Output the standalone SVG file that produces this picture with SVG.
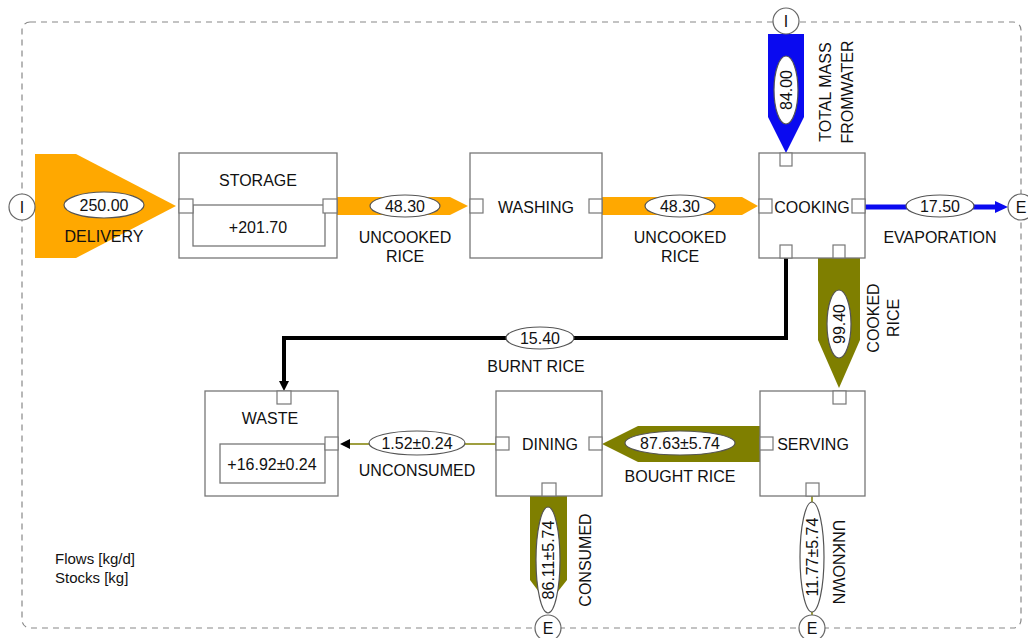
<svg xmlns="http://www.w3.org/2000/svg" width="1028" height="638" viewBox="0 0 1028 638">
<style>
text{font-family:"Liberation Sans",Arial,sans-serif;font-size:16px;fill:#111;text-anchor:middle;dominant-baseline:central}
.box{fill:#fff;stroke:#777;stroke-width:1.3}
.port{fill:#fff;stroke:#777;stroke-width:1.2}
.ell{fill:#fff;stroke:#555;stroke-width:1.2}
.term{fill:#fff;stroke:#666;stroke-width:1.2}
.or{fill:#FFA800}
.bl{fill:#0a0aF0}
.ol{fill:#7f7f00}
.leg{text-anchor:start;font-size:15px}
</style>
<rect x="22" y="22" width="999" height="606" rx="8" fill="none" stroke="#888" stroke-width="1.2" stroke-dasharray="6 5"/>

<g id="connectors">
  <g id="flow-delivery">
    <polygon class="or" points="35,154 76,154 176,206 76,258 35,258"/>
    <ellipse class="ell" cx="104" cy="205" rx="40" ry="13"/>
    <text x="104" y="205">250.00</text>
    <text x="104" y="236">DELIVERY</text>
  </g>
  <g id="flow-uncooked1">
    <polygon class="or" points="337,197 450,197 468,206 450,215 337,215"/>
    <ellipse class="ell" cx="405" cy="206" rx="35" ry="11"/>
    <text x="405" y="206">48.30</text>
    <text x="405" y="237">UNCOOKED</text>
    <text x="405" y="256">RICE</text>
  </g>
  <g id="flow-uncooked2">
    <polygon class="or" points="602,197 742,197 758,206 742,215 602,215"/>
    <ellipse class="ell" cx="680" cy="206" rx="35" ry="11"/>
    <text x="680" y="206">48.30</text>
    <text x="680" y="237">UNCOOKED</text>
    <text x="680" y="256">RICE</text>
  </g>
  <g id="flow-water">
    <polygon class="bl" points="768,34 804,34 804,117 786,153 768,117"/>
    <ellipse class="ell" cx="786" cy="90" rx="12" ry="34"/>
    <text transform="translate(786,90) rotate(-90)">84.00</text>
    <text transform="translate(825,92) rotate(-90)">TOTAL MASS</text>
    <text transform="translate(847,92) rotate(-90)">FROMWATER</text>
  </g>
  <g id="flow-evaporation">
    <rect class="bl" x="865" y="204.5" width="132" height="5"/>
    <polygon class="bl" points="995,201 1008,207 995,213"/>
    <ellipse class="ell" cx="940" cy="206" rx="34" ry="11"/>
    <text x="940" y="206">17.50</text>
    <text x="940" y="237">EVAPORATION</text>
  </g>
  <g id="flow-cooked">
    <polygon class="ol" points="818,258 860,258 860,340 839,388 818,340"/>
    <ellipse class="ell" cx="839" cy="324" rx="12" ry="34"/>
    <text transform="translate(839,324) rotate(-90)">99.40</text>
    <text transform="translate(873,318) rotate(-90)">COOKED</text>
    <text transform="translate(893,318) rotate(-90)">RICE</text>
  </g>
  <g id="flow-burnt">
    <path d="M786,258 V338 H284 V382" fill="none" stroke="#000" stroke-width="4"/>
    <polygon points="279,381 289,381 284,391" fill="#000"/>
    <ellipse class="ell" cx="540" cy="338" rx="34" ry="11"/>
    <text x="540" y="338">15.40</text>
    <text x="536" y="366">BURNT RICE</text>
  </g>
  <g id="flow-bought">
    <polygon class="ol" points="760,426 760,462 638,462 602,444 638,426"/>
    <ellipse class="ell" cx="680" cy="443" rx="55" ry="12"/>
    <text x="680" y="443">87.63±5.74</text>
    <text x="680" y="476">BOUGHT RICE</text>
  </g>
  <g id="flow-unconsumed">
    <line x1="496" y1="444" x2="348" y2="444" stroke="#7f7f00" stroke-width="1.3"/>
    <polygon points="350,439 350,449 340,444" fill="#000"/>
    <ellipse class="ell" cx="417" cy="443" rx="48" ry="12"/>
    <text x="417" y="443">1.52±0.24</text>
    <text x="417" y="470">UNCONSUMED</text>
  </g>
  <g id="flow-consumed">
    <polygon class="ol" points="530,496 567,496 567,580 548,604 530,580"/>
    <ellipse class="ell" cx="548" cy="560" rx="12" ry="53"/>
    <text transform="translate(548,560) rotate(-90)">86.11±5.74</text>
    <text transform="translate(585,560) rotate(-90)">CONSUMED</text>
  </g>
  <g id="flow-unknown">
    <line x1="812" y1="496" x2="812" y2="615" stroke="#7f7f00" stroke-width="1.5"/>
    <ellipse class="ell" cx="812" cy="557" rx="12" ry="55"/>
    <text transform="translate(812,557) rotate(-90)">11.77±5.74</text>
    <text transform="translate(838,562) rotate(90)">UNKNOWN</text>
  </g>
</g>

<g id="term-I-left"><circle class="term" cx="22" cy="207" r="13"/><text x="22" y="207">I</text></g>
<g id="term-I-top"><circle class="term" cx="786" cy="21" r="13"/><text x="786" y="21">I</text></g>
<g id="term-E-right"><circle class="term" cx="1021" cy="207" r="13"/><text x="1021" y="207">E</text></g>
<g id="term-E-consumed"><circle class="term" cx="548" cy="628" r="13"/><text x="548" y="628">E</text></g>
<g id="term-E-unknown"><circle class="term" cx="812" cy="628" r="13"/><text x="812" y="628">E</text></g>

<g id="storage">
  <rect class="box" x="179" y="153" width="158" height="105"/>
  <rect class="box" x="193" y="205" width="132" height="41"/>
  <rect class="port" x="179" y="199" width="14" height="14"/>
  <rect class="port" x="323" y="199" width="14" height="14"/>
  <text x="258" y="180">STORAGE</text>
  <text x="258" y="227">+201.70</text>
</g>
<g id="washing">
  <rect class="box" x="470" y="153" width="132" height="105"/>
  <rect class="port" x="470" y="199" width="13" height="14"/>
  <rect class="port" x="589" y="199" width="13" height="14"/>
  <text x="536" y="207">WASHING</text>
</g>
<g id="cooking">
  <rect class="box" x="759" y="153" width="106" height="105"/>
  <rect class="port" x="780" y="153" width="12" height="13"/>
  <rect class="port" x="759" y="199" width="13" height="14"/>
  <rect class="port" x="852" y="199" width="13" height="14"/>
  <rect class="port" x="780" y="245" width="12" height="13"/>
  <rect class="port" x="833" y="245" width="12" height="13"/>
  <text x="812" y="207">COOKING</text>
</g>
<g id="waste">
  <rect class="box" x="205" y="391" width="133" height="105"/>
  <rect class="box" x="220" y="444" width="105" height="39"/>
  <rect class="port" x="277" y="391" width="14" height="13"/>
  <rect class="port" x="325" y="437" width="13" height="13"/>
  <text x="270" y="418">WASTE</text>
  <text x="272" y="464">+16.92±0.24</text>
</g>
<g id="dining">
  <rect class="box" x="496" y="391" width="106" height="105"/>
  <rect class="port" x="496" y="437" width="13" height="13"/>
  <rect class="port" x="589" y="437" width="13" height="13"/>
  <rect class="port" x="542" y="483" width="14" height="13"/>
  <text x="550" y="444">DINING</text>
</g>
<g id="serving">
  <rect class="box" x="760" y="391" width="105" height="105"/>
  <rect class="port" x="833" y="391" width="13" height="13"/>
  <rect class="port" x="760" y="437" width="13" height="13"/>
  <rect class="port" x="806" y="483" width="13" height="13"/>
  <text x="813" y="444">SERVING</text>
</g>
<g id="legend">
  <text class="leg" x="55" y="558">Flows  [kg/d]</text>
  <text class="leg" x="55" y="577">Stocks [kg]</text>
</g>
</svg>
